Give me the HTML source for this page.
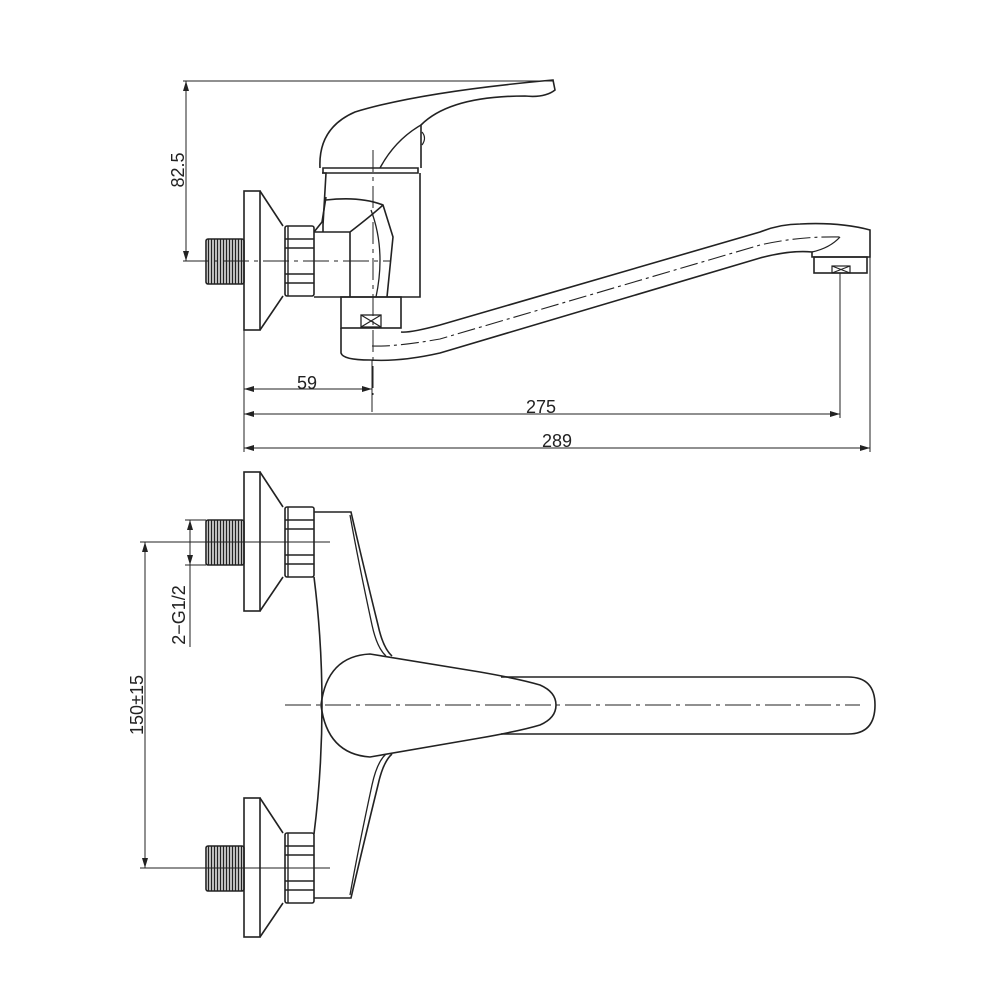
<!DOCTYPE html>
<html><head><meta charset="utf-8"><style>
html,body{margin:0;padding:0;background:#fff}
svg{display:block}
text{font-family:"Liberation Sans",sans-serif;font-size:18px;fill:#222}
</style></head><body>
<svg width="1000" height="1000" viewBox="0 0 1000 1000" xmlns="http://www.w3.org/2000/svg">
<defs>
<pattern id="th" width="3" height="10" patternUnits="userSpaceOnUse">
<rect width="3" height="10" fill="#fff"/><line x1="1.5" y1="0" x2="1.5" y2="10" stroke="#222" stroke-width="1.6"/>
</pattern>
<marker id="a" viewBox="0 0 10 6" refX="10" refY="3" markerWidth="10" markerHeight="6" orient="auto-start-reverse" markerUnits="userSpaceOnUse">
<path d="M0,0 L10,3 L0,6 z" fill="#222"/></marker>
<g id="fit">
<rect x="206" y="-22" width="38" height="45" rx="2" fill="url(#th)" stroke="#222" stroke-width="1.6"/>
<rect x="244" y="-70" width="16" height="139" fill="none" stroke="#222" stroke-width="1.6"/>
<path d="M260,-70 L283,-35 M260,69 L283,35" stroke="#222" stroke-width="1.6" fill="none"/>
<rect x="285" y="-35" width="29" height="70" rx="2" fill="none" stroke="#222" stroke-width="1.6"/>
<path d="M288,-35 V35 M285,-22 H314 M285,-13 H314 M285,13 H314 M285,22 H314" stroke="#222" stroke-width="1.4"/>
</g>
</defs>
<g fill="none" stroke="#222" stroke-width="1.6">
<!-- TOP VIEW -->
<use href="#fit" transform="translate(0,261)"/>
<path d="M323,168 H418 V173 H323 Z"/>
<path d="M322,173 L326,173 L323,225 L323,232 M420,173 L420,297 L314,297"/>
<path d="M314,232 H350 L350,297 M326,200 Q360,196 383,205 L393,237 L387,297 M350,232 Q372,215 383,205"/>
<path d="M314,232 L322,222 L326,197"/>
<path d="M371,210 Q386,250 376,297" stroke-width="1.3"/>
<rect x="341" y="297" width="60" height="31"/>
<rect x="361" y="315" width="20" height="12" stroke-width="1.3"/>
<path d="M361,315 L381,327 M381,315 L361,327" stroke-width="1.2"/>
<path d="M341,328 V353 Q343,360 370,360"/>
<!-- handle -->
<path d="M320,168 Q318,128 355,112 Q420,92 553,80 L555,90 Q545,98 525,96 Q450,96 421,125 L421,168"/>
<path d="M421,125 Q395,140 380,168" stroke-width="1.4"/>
<path d="M422,132 Q427,138 422,145" stroke-width="1.2"/>
<!-- spout -->
<path d="M370,360 Q400,362 440,353 L760,258 Q790,250 812,252 L812,257 L870,257 L870,230 Q840,222 800,224 Q780,224 760,232 L440,325 Q410,333 401,332"/>
<rect x="814" y="257" width="53" height="16"/>
<rect x="832" y="266" width="18" height="7" stroke-width="1.2"/>
<path d="M832,266 L850,273 M850,266 L832,273" stroke-width="1.1"/>
<path d="M812,252 Q830,248 840,237" stroke-width="1.3"/>
<path d="M372,346 Q395,347 440,339 L760,245 Q800,236 840,237" stroke-width="1.1" stroke-dasharray="18,4,3,4"/>
<path d="M373,150 V395" stroke-width="1" stroke-dasharray="22,5,4,5"/>
<path d="M183,261 H390" stroke-width="1" stroke-dasharray="26,5,4,5"/>
</g>
<g stroke="#222" stroke-width="1" fill="none">
<path d="M183,81 H553"/>
<path d="M186,81 V261" marker-start="url(#a)" marker-end="url(#a)"/>
<path d="M244,330 V452 M372,360 V412 M840,273 V418 M870,257 V452"/>
<path d="M244,389 H372" marker-start="url(#a)" marker-end="url(#a)"/>
<path d="M244,414 H840" marker-start="url(#a)" marker-end="url(#a)"/>
<path d="M244,448 H870" marker-start="url(#a)" marker-end="url(#a)"/>
</g>
<text x="307" y="389" text-anchor="middle">59</text>
<text x="541" y="413" text-anchor="middle">275</text>
<text x="557" y="447" text-anchor="middle">289</text>
<text transform="translate(184,170) rotate(-90)" text-anchor="middle">82.5</text>

<!-- BOTTOM VIEW -->
<g fill="none" stroke="#222" stroke-width="1.6">
<use href="#fit" transform="translate(0,542)"/>
<use href="#fit" transform="translate(0,868)"/>
<path d="M314,512 H351 Q362,560 378,625 Q383,648 392,656"/>
<path d="M350,515 Q358,560 372,625 Q377,648 386,656" stroke-width="1.3"/>
<path d="M314,898 H351 Q362,850 378,785 Q383,762 392,754"/>
<path d="M350,895 Q358,850 372,785 Q377,762 386,754" stroke-width="1.3"/>
<path d="M314,577 Q322,640 322,705 Q322,770 314,834"/>
<path d="M370,654 Q327,656 321,705 Q327,754 370,757 L480,738 Q520,731 540,725 Q556,718 556,705 Q556,692 540,685 Q520,679 480,672 Z"/>
<path d="M501,677 H848 Q875,677 875,705 Q875,734 848,734 H501"/>
</g>
<g stroke="#222" stroke-width="1" fill="none">
<path d="M285,705 H860" stroke-dasharray="26,5,4,5"/>
<path d="M140,542 H330 M140,868 H330"/>
<path d="M145,542 V868" marker-start="url(#a)" marker-end="url(#a)"/>
<path d="M185,520 H206 M185,565 H206"/>
<path d="M190,520 V565" marker-start="url(#a)" marker-end="url(#a)"/>
<path d="M190,565 V647"/>
</g>
<text transform="translate(143,705) rotate(-90)" text-anchor="middle">150±15</text>
<text transform="translate(185,615) rotate(-90)" text-anchor="middle">2−G1/2</text>
</svg>
</body></html>
